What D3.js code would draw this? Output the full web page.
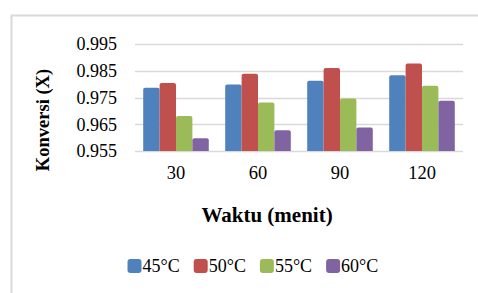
<!DOCTYPE html>
<html>
<head>
<meta charset="utf-8">
<script src="https://cdn.jsdelivr.net/npm/d3@7"></script>
<style>
body{margin:0;background:#fff;}
text{font-family:"Liberation Serif","Times New Roman",serif;}
</style>
</head>
<body>
<div id="chart"></div>
<script>
var categories = ["30","60","90","120"]
var seriesNames = ["45°C","50°C","55°C","60°C"]
var colors = ["#4F81BD","#C0504D","#9BBB59","#8064A2"]
var s45 = [0.9786,0.9799,0.9813,0.9833]
var s50 = [0.9804,0.9839,0.9860,0.9877]
var s55 = [0.9681,0.9731,0.9746,0.9794]
var s60 = [0.9598,0.9628,0.9638,0.9738]
var yTicks = [0.955,0.965,0.975,0.985,0.995]

var series = [s45,s50,s55,s60]
var width = 478, height = 293
var plot = {left:135, right:463, top:44, bottom:151}

var svg = d3.select("#chart").append("svg")
	.attr("width",width)
	.attr("height",height)

// outer frame (cut off on right and bottom)
svg.append("path")
	.attr("d","M11.5,293 V15.5 H478")
	.attr("fill","none")
	.attr("stroke","#d9d9d9")
	.attr("stroke-width",2)

var x0 = d3.scaleBand()
	.domain(categories)
	.range([plot.left,plot.right])
	.paddingInner(0.2)
	.paddingOuter(0.1)

var x1 = d3.scaleBand()
	.domain(d3.range(seriesNames.length))
	.range([0,x0.bandwidth()])

var yScale = d3.scaleLinear()
	.domain([0.955,0.995])
	.range([plot.bottom,plot.top])

// gridlines
svg.selectAll(".grid")
	.data(yTicks).enter()
	.append("line")
	.attr("x1",plot.left)
	.attr("x2",plot.right)
	.attr("y1",function(d){return Math.round(yScale(d))+0.5})
	.attr("y2",function(d){return Math.round(yScale(d))+0.5})
	.attr("stroke","#d9d9d9")
	.attr("stroke-width",1.5)

// y tick labels
svg.selectAll(".ytick")
	.data(yTicks).enter()
	.append("text")
	.attr("x",117)
	.attr("y",function(d){return yScale(d)})
	.attr("dy","0.35em")
	.attr("text-anchor","end")
	.attr("font-size",18)
	.attr("fill","#000")
	.text(function(d){return d3.format(".3f")(d)})

// bars
var groups = svg.selectAll(".grp")
	.data(categories).enter()
	.append("g")
	.attr("transform",function(d){return "translate(" + x0(d) + ",0)"})

groups.selectAll("rect")
	.data(function(d,i){return series.map(function(s,j){return {v:s[i],j:j}})})
	.enter()
	.append("path")
	.attr("fill",function(d){return colors[d.j]})
	.attr("d",function(d){
		var x = x1(d.j), w = x1.bandwidth(), y = yScale(d.v), b = yScale(0.955), r = 2
		return "M"+x+","+b+" V"+(y+r)+" Q"+x+","+y+" "+(x+r)+","+y+" H"+(x+w-r)+" Q"+(x+w)+","+y+" "+(x+w)+","+(y+r)+" V"+b+" Z"
	})

// category labels
svg.selectAll(".xtick")
	.data(categories).enter()
	.append("text")
	.attr("x",function(d){return x0(d)+x0.bandwidth()/2})
	.attr("y",173)
	.attr("dy","0.35em")
	.attr("text-anchor","middle")
	.attr("font-size",18.5)
	.text(function(d){return d})

// axis titles
svg.append("text")
	.attr("x",267)
	.attr("y",215)
	.attr("dy","0.35em")
	.attr("text-anchor","middle")
	.attr("font-size",21)
	.attr("font-weight","bold")
	.text("Waktu (menit)")

svg.append("text")
	.attr("transform","translate(43,120) rotate(-90)")
	.attr("dy","0.35em")
	.attr("text-anchor","middle")
	.attr("font-size",18.5)
	.attr("font-weight","bold")
	.text("Konversi (X)")

// legend
var legend = svg.selectAll(".leg")
	.data(seriesNames).enter()
	.append("g")
	.attr("transform",function(d,i){return "translate(" + (127.5 + i*66.2) + ",259)"})

legend.append("rect")
	.attr("width",14)
	.attr("height",14)
	.attr("rx",3)
	.attr("fill",function(d,i){return colors[i]})

legend.append("text")
	.attr("x",15)
	.attr("y",7)
	.attr("dy","0.35em")
	.attr("font-size",18)
	.text(function(d){return d})
</script>
</body>
</html>
